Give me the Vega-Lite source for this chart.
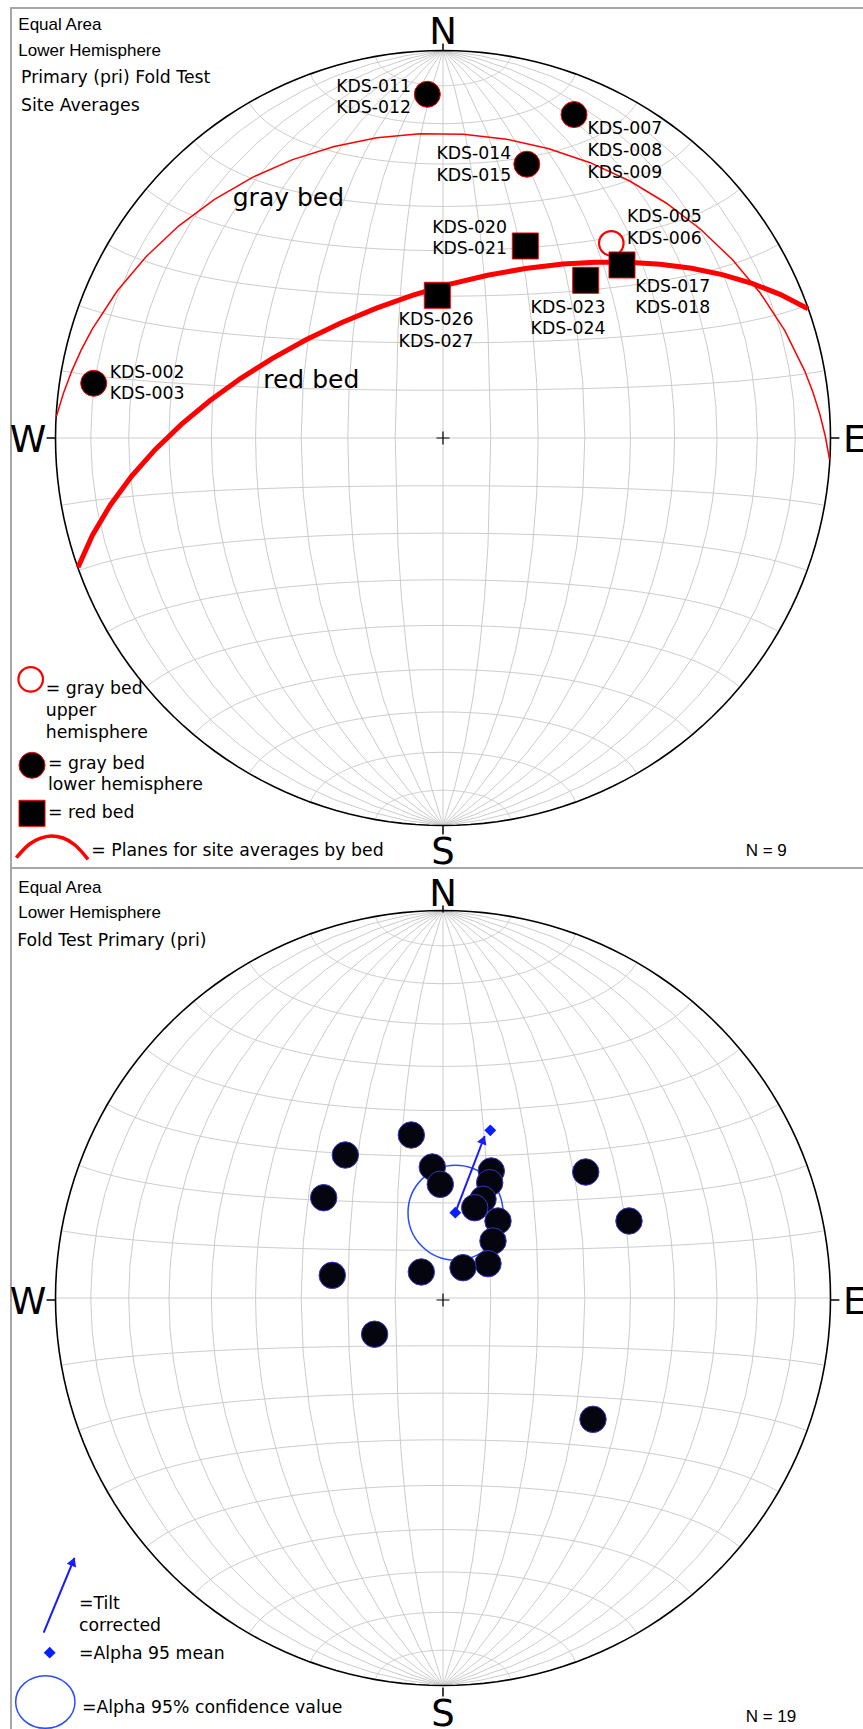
{
 "$schema": "https://vega.github.io/schema/vega-lite/v6.json",
 "padding": {"left": 8, "top": 7, "right": 0, "bottom": 0},
 "spacing": 0,
 "bounds": "flush",
 "background": "white",
 "config": {"view": {"stroke": "#a6a6a6", "strokeWidth": 2}},
 "vconcat": [
  {
   "width": 856, "height": 860,
   "layer": [
    {"data": {"graticule": {"extentMajor": [[-180, -89.99], [180, 89.99]], "extentMinor": [[-180, -89.99], [180, 89.99]], "stepMajor": [90, 360], "stepMinor": [10, 10], "precision": 1}},
     "mark": {"type": "geoshape", "filled": false, "stroke": "#cccccc", "strokeWidth": 1},
     "projection": {"type": "azimuthalEqualArea", "scale": 274.004, "translate": [432, 430], "clipAngle": 90}},
    {"data": {"sphere": true},
     "mark": {"type": "geoshape", "filled": false, "stroke": "#000000", "strokeWidth": 1.6},
     "projection": {"type": "azimuthalEqualArea", "scale": 274.004, "translate": [432, 430], "clipAngle": 90}},
    {"data": {"values": [{"type": "Feature", "properties": {"bed": "gray"}, "geometry": {"type": "LineString", "coordinates": [[-89.9, 3.2], [59.44, 49.84], [89.9, -3.2]]}}]},
     "mark": {"type": "geoshape", "filled": false, "stroke": "#ff0000", "strokeWidth": 1.5},
     "projection": {"type": "azimuthalEqualArea", "scale": 274.004, "translate": [432, 430], "clipAngle": 90}},
    {"data": {"values": [{"type": "Feature", "properties": {"bed": "red"}, "geometry": {"type": "LineString", "coordinates": [[-89.9, -19.5], [29.89, 35.85], [89.9, 19.5]]}}]},
     "mark": {"type": "geoshape", "filled": false, "stroke": "#ff0000", "strokeWidth": 5},
     "projection": {"type": "azimuthalEqualArea", "scale": 274.004, "translate": [432, 430], "clipAngle": 90}},
    {"data": {"values": [{"u": 0, "v": 1, "u2": 0, "v2": 1.0181}, {"u": 0, "v": -1, "u2": 0, "v2": -1.0232}, {"u": 1, "v": 0, "u2": 1.023, "v2": 0}, {"u": -1, "v": 0, "u2": -1.023, "v2": 0}]},
     "mark": {"type": "rule", "stroke": "#000000", "strokeWidth": 1.5},
     "encoding": {
      "x": {"field": "u", "type": "quantitative", "scale": {"domain": [-1.114839, 1.094194], "nice": false, "zero": false}, "axis": null},
      "y": {"field": "v", "type": "quantitative", "scale": {"domain": [-1.109677, 1.109677], "nice": false, "zero": false}, "axis": null},
      "x2": {"field": "u2"}, "y2": {"field": "v2"}}},
    {"data": {"values": [{"u": 0, "v": 0}]},
     "mark": {"type": "point", "shape": "M-1,0H1M0,-1V1", "size": 169, "filled": false, "stroke": "#000000", "strokeWidth": 1.2, "opacity": 1},
     "encoding": {
      "x": {"field": "u", "type": "quantitative", "axis": null},
      "y": {"field": "v", "type": "quantitative", "axis": null}}},
    {"data": {"values": [
      {"site": "KDS-011/012", "u": -0.0405, "v": 0.8870},
      {"site": "KDS-007/008/009", "u": 0.3381, "v": 0.8346},
      {"site": "KDS-014/015", "u": 0.2163, "v": 0.7066},
      {"site": "KDS-002/003", "u": -0.9014, "v": 0.1412},
      {"site": "legend", "u": -1.0606, "v": -0.8446}]},
     "mark": {"type": "point", "shape": "circle", "size": 676, "filled": true, "fill": "#000000", "stroke": "#ff0000", "strokeWidth": 1, "opacity": 1},
     "encoding": {
      "x": {"field": "u", "type": "quantitative", "axis": null},
      "y": {"field": "v", "type": "quantitative", "axis": null}}},
    {"data": {"values": [
      {"site": "KDS-005/006", "u": 0.4343, "v": 0.5025},
      {"site": "legend", "u": -1.0640, "v": -0.6227}]},
     "mark": {"type": "point", "shape": "circle", "size": 600, "filled": true, "fill": "#ffffff", "stroke": "#ff0000", "strokeWidth": 2.2, "opacity": 1},
     "encoding": {
      "x": {"field": "u", "type": "quantitative", "axis": null},
      "y": {"field": "v", "type": "quantitative", "axis": null}}},
    {"data": {"values": [
      {"site": "KDS-020/021", "u": 0.2124, "v": 0.4955},
      {"site": "KDS-026/027", "u": -0.0147, "v": 0.3683},
      {"site": "KDS-023/024", "u": 0.3683, "v": 0.4070},
      {"site": "KDS-017/018", "u": 0.4619, "v": 0.4465},
      {"site": "legend", "u": -1.0606, "v": -0.9685}]},
     "mark": {"type": "point", "shape": "square", "size": 676, "filled": true, "fill": "#000000", "stroke": "#ff0000", "strokeWidth": 1, "opacity": 1},
     "encoding": {
      "x": {"field": "u", "type": "quantitative", "axis": null},
      "y": {"field": "v", "type": "quantitative", "axis": null}}},
    {"data": {"values": [
      {"i": 0, "u": -1.1012, "v": -1.0831}, {"i": 1, "u": -1.0666, "v": -1.0477}, {"i": 2, "u": -1.0400, "v": -1.0335},
      {"i": 3, "u": -1.0108, "v": -1.0271}, {"i": 4, "u": -0.9806, "v": -1.0323}, {"i": 5, "u": -0.9497, "v": -1.0503}, {"i": 6, "u": -0.9161, "v": -1.0872}]},
     "mark": {"type": "line", "interpolate": "monotone", "stroke": "#ff0000", "strokeWidth": 3.5},
     "encoding": {
      "x": {"field": "u", "type": "quantitative", "axis": null},
      "y": {"field": "v", "type": "quantitative", "axis": null},
      "order": {"field": "i", "type": "quantitative"}}},
    {"data": {"values": [
      {"t": "KDS-007", "u": 0.3726, "v": 0.7855}, {"t": "KDS-008", "u": 0.3726, "v": 0.7285}, {"t": "KDS-009", "u": 0.3726, "v": 0.6717},
      {"t": "KDS-005", "u": 0.4748, "v": 0.5582}, {"t": "KDS-006", "u": 0.4748, "v": 0.4999},
      {"t": "KDS-017", "u": 0.4963, "v": 0.3775}, {"t": "KDS-018", "u": 0.4963, "v": 0.3218},
      {"t": "KDS-002", "u": -0.8601, "v": 0.1556}, {"t": "KDS-003", "u": -0.8601, "v": 0.0999},
      {"t": "= gray bed", "u": -1.0253, "v": -0.6614}, {"t": "upper", "u": -1.0253, "v": -0.7174}, {"t": "hemisphere", "u": -1.0253, "v": -0.7734},
      {"t": "= gray bed", "u": -1.0194, "v": -0.8534}, {"t": "lower hemisphere", "u": -1.0194, "v": -0.9092},
      {"t": "= red bed", "u": -1.0194, "v": -0.9799},
      {"t": "= Planes for site averages by bed", "u": -0.9076, "v": -1.0787},
      {"t": "Primary (pri) Fold Test", "u": -1.0890, "v": 0.9161}, {"t": "Site Averages", "u": -1.0890, "v": 0.8439}]},
     "mark": {"type": "text", "align": "left", "baseline": "alphabetic", "font": "DejaVu Sans", "fontSize": 17.3, "color": "#000000"},
     "encoding": {
      "x": {"field": "u", "type": "quantitative", "axis": null},
      "y": {"field": "v", "type": "quantitative", "axis": null},
      "text": {"field": "t"}}},
    {"data": {"values": [
      {"t": "KDS-011", "u": -0.0826, "v": 0.8937}, {"t": "KDS-012", "u": -0.0826, "v": 0.8395},
      {"t": "KDS-014", "u": 0.1763, "v": 0.7190}, {"t": "KDS-015", "u": 0.1763, "v": 0.6632},
      {"t": "KDS-020", "u": 0.1652, "v": 0.5298}, {"t": "KDS-021", "u": 0.1652, "v": 0.4741}]},
     "mark": {"type": "text", "align": "right", "baseline": "alphabetic", "font": "DejaVu Sans", "fontSize": 17.3, "color": "#000000"},
     "encoding": {
      "x": {"field": "u", "type": "quantitative", "axis": null},
      "y": {"field": "v", "type": "quantitative", "axis": null},
      "text": {"field": "t"}}},
    {"data": {"values": [
      {"t": "KDS-026", "u": -0.0181, "v": 0.2916}, {"t": "KDS-027", "u": -0.0181, "v": 0.2356},
      {"t": "KDS-023", "u": 0.3226, "v": 0.3234}, {"t": "KDS-024", "u": 0.3226, "v": 0.2676}]},
     "mark": {"type": "text", "align": "center", "baseline": "alphabetic", "font": "DejaVu Sans", "fontSize": 17.3, "color": "#000000"},
     "encoding": {
      "x": {"field": "u", "type": "quantitative", "axis": null},
      "y": {"field": "v", "type": "quantitative", "axis": null},
      "text": {"field": "t"}}},
    {"data": {"values": [{"t": "gray bed", "u": -0.3990, "v": 0.5980}, {"t": "red bed", "u": -0.3400, "v": 0.1290}]},
     "mark": {"type": "text", "align": "center", "baseline": "alphabetic", "font": "DejaVu Sans", "fontSize": 25, "color": "#000000"},
     "encoding": {
      "x": {"field": "u", "type": "quantitative", "axis": null},
      "y": {"field": "v", "type": "quantitative", "axis": null},
      "text": {"field": "t"}}},
    {"data": {"values": [{"t": "Equal Area", "u": -1.0960, "v": 1.0521}, {"t": "Lower Hemisphere", "u": -1.0960, "v": 0.9858}, {"t": "N = 9", "u": 0.7812, "v": -1.0787}]},
     "mark": {"type": "text", "align": "left", "baseline": "alphabetic", "font": "Liberation Sans", "fontSize": 17, "color": "#000000"},
     "encoding": {
      "x": {"field": "u", "type": "quantitative", "axis": null},
      "y": {"field": "v", "type": "quantitative", "axis": null},
      "text": {"field": "t"}}},
    {"data": {"values": [{"t": "N", "u": 0, "v": 1.0160}, {"t": "S", "u": 0, "v": -1.1006}]},
     "mark": {"type": "text", "align": "center", "baseline": "alphabetic", "font": "DejaVu Sans", "fontSize": 37, "color": "#000000"},
     "encoding": {
      "x": {"field": "u", "type": "quantitative", "axis": null},
      "y": {"field": "v", "type": "quantitative", "axis": null},
      "text": {"field": "t"}}},
    {"data": {"values": [{"t": "W", "u": -1.0237, "v": -0.036}]},
     "mark": {"type": "text", "align": "right", "baseline": "alphabetic", "font": "DejaVu Sans", "fontSize": 37, "color": "#000000"},
     "encoding": {
      "x": {"field": "u", "type": "quantitative", "axis": null},
      "y": {"field": "v", "type": "quantitative", "axis": null},
      "text": {"field": "t"}}},
    {"data": {"values": [{"t": "E", "u": 1.0323, "v": -0.036}]},
     "mark": {"type": "text", "align": "left", "baseline": "alphabetic", "font": "DejaVu Sans", "fontSize": 37, "color": "#000000"},
     "encoding": {
      "x": {"field": "u", "type": "quantitative", "axis": null},
      "y": {"field": "v", "type": "quantitative", "axis": null},
      "text": {"field": "t"}}}
   ]
  },
  {
   "width": 856, "height": 862,
   "layer": [
    {"data": {"graticule": {"extentMajor": [[-180, -89.99], [180, 89.99]], "extentMinor": [[-180, -89.99], [180, 89.99]], "stepMajor": [90, 360], "stepMinor": [10, 10], "precision": 1}},
     "mark": {"type": "geoshape", "filled": false, "stroke": "#cccccc", "strokeWidth": 1},
     "projection": {"type": "azimuthalEqualArea", "scale": 274.004, "translate": [432, 432], "clipAngle": 90}},
    {"data": {"sphere": true},
     "mark": {"type": "geoshape", "filled": false, "stroke": "#000000", "strokeWidth": 1.6},
     "projection": {"type": "azimuthalEqualArea", "scale": 274.004, "translate": [432, 432], "clipAngle": 90}},
    {"data": {"values": [{"u": 0, "v": 1, "u2": 0, "v2": 1.0181}, {"u": 0, "v": -1, "u2": 0, "v2": -1.0232}, {"u": 1, "v": 0, "u2": 1.023, "v2": 0}, {"u": -1, "v": 0, "u2": -1.023, "v2": 0}]},
     "mark": {"type": "rule", "stroke": "#000000", "strokeWidth": 1.5},
     "encoding": {
      "x": {"field": "u", "type": "quantitative", "scale": {"domain": [-1.114839, 1.094194], "nice": false, "zero": false}, "axis": null},
      "y": {"field": "v", "type": "quantitative", "scale": {"domain": [-1.109677, 1.114839], "nice": false, "zero": false}, "axis": null},
      "x2": {"field": "u2"}, "y2": {"field": "v2"}}},
    {"data": {"values": [{"u": 0, "v": 0}]},
     "mark": {"type": "point", "shape": "M-1,0H1M0,-1V1", "size": 169, "filled": false, "stroke": "#000000", "strokeWidth": 1.2, "opacity": 1},
     "encoding": {
      "x": {"field": "u", "type": "quantitative", "axis": null},
      "y": {"field": "v", "type": "quantitative", "axis": null}}},
    {"data": {"values": [{"item": "alpha95", "u": 0.0323, "v": 0.2253}]},
     "mark": {"type": "point", "shape": "circle", "size": 9025, "filled": false, "stroke": "#2a4cff", "strokeWidth": 1.5, "opacity": 1},
     "encoding": {
      "x": {"field": "u", "type": "quantitative", "axis": null},
      "y": {"field": "v", "type": "quantitative", "axis": null}}},
    {"data": {"values": [{"item": "legend ellipse", "u": -1.0263, "v": -1.0374}]},
     "mark": {"type": "point", "shape": "M-1,0A1,0.889,0,1,1,1,0A1,0.889,0,1,1,-1,0Z", "size": 3516, "filled": false, "stroke": "#2a4cff", "strokeWidth": 1.5, "opacity": 1},
     "encoding": {
      "x": {"field": "u", "type": "quantitative", "axis": null},
      "y": {"field": "v", "type": "quantitative", "axis": null}}},
    {"data": {"values": [
      {"u": -0.0818, "v": 0.4258}, {"u": -0.2521, "v": 0.3742}, {"u": -0.3079, "v": 0.2640}, {"u": -0.0276, "v": 0.3432},
      {"u": -0.0070, "v": 0.2986}, {"u": 0.3683, "v": 0.3303}, {"u": 0.4800, "v": 0.2039}, {"u": 0.1246, "v": 0.3329},
      {"u": 0.1205, "v": 0.3027}, {"u": 0.1032, "v": 0.2599}, {"u": 0.0818, "v": 0.2382}, {"u": 0.1419, "v": 0.2039},
      {"u": 0.1290, "v": 0.1523}, {"u": 0.1161, "v": 0.0937}, {"u": 0.0516, "v": 0.0834}, {"u": -0.0560, "v": 0.0723},
      {"u": -0.2857, "v": 0.0637}, {"u": -0.1765, "v": -0.0883}, {"u": 0.3871, "v": -0.3079}]},
     "mark": {"type": "point", "shape": "circle", "size": 700, "filled": true, "fill": "#050510", "stroke": "#3a32c8", "strokeWidth": 1, "opacity": 1},
     "encoding": {
      "x": {"field": "u", "type": "quantitative", "axis": null},
      "y": {"field": "v", "type": "quantitative", "axis": null}}},
    {"data": {"values": [{"item": "tilt arrow", "u": 0.0317, "v": 0.2253, "u2": 0.1076, "v2": 0.4232}, {"item": "legend arrow", "u": -1.0305, "v": -0.8586, "u2": -0.9510, "v2": -0.6658}]},
     "mark": {"type": "rule", "stroke": "#1a1aff", "strokeWidth": 2},
     "encoding": {
      "x": {"field": "u", "type": "quantitative", "axis": null},
      "y": {"field": "v", "type": "quantitative", "axis": null},
      "x2": {"field": "u2"}, "y2": {"field": "v2"}}},
    {"data": {"values": [{"item": "tilt arrow head", "u": 0.1039, "v": 0.4136}, {"item": "legend arrow head", "u": -0.9548, "v": -0.6751}]},
     "mark": {"type": "point", "shape": "triangle-up", "size": 100, "angle": 21, "filled": true, "fill": "#1a1aff", "strokeWidth": 0, "opacity": 1},
     "encoding": {
      "x": {"field": "u", "type": "quantitative", "axis": null},
      "y": {"field": "v", "type": "quantitative", "axis": null}}},
    {"data": {"values": [{"item": "mean", "u": 0.0317, "v": 0.2253}, {"item": "tilt corrected", "u": 0.1221, "v": 0.4379}, {"item": "legend", "u": -1.0150, "v": -0.9102}]},
     "mark": {"type": "point", "shape": "diamond", "size": 140, "filled": true, "fill": "#0a1eff", "strokeWidth": 0, "opacity": 1},
     "encoding": {
      "x": {"field": "u", "type": "quantitative", "axis": null},
      "y": {"field": "v", "type": "quantitative", "axis": null}}},
    {"data": {"values": [
      {"t": "=Tilt", "u": -0.9394, "v": -0.7982}, {"t": "corrected", "u": -0.9394, "v": -0.8542},
      {"t": "=Alpha 95 mean", "u": -0.9394, "v": -0.9272}, {"t": "=Alpha 95% confidence value", "u": -0.9316, "v": -1.0650},
      {"t": "Fold Test Primary (pri)", "u": -1.0990, "v": 0.9135}]},
     "mark": {"type": "text", "align": "left", "baseline": "alphabetic", "font": "DejaVu Sans", "fontSize": 17.3, "color": "#000000"},
     "encoding": {
      "x": {"field": "u", "type": "quantitative", "axis": null},
      "y": {"field": "v", "type": "quantitative", "axis": null},
      "text": {"field": "t"}}},
    {"data": {"values": [{"t": "Equal Area", "u": -1.0960, "v": 1.0511}, {"t": "Lower Hemisphere", "u": -1.0960, "v": 0.9850}, {"t": "N = 19", "u": 0.7812, "v": -1.0900}]},
     "mark": {"type": "text", "align": "left", "baseline": "alphabetic", "font": "Liberation Sans", "fontSize": 17, "color": "#000000"},
     "encoding": {
      "x": {"field": "u", "type": "quantitative", "axis": null},
      "y": {"field": "v", "type": "quantitative", "axis": null},
      "text": {"field": "t"}}},
    {"data": {"values": [{"t": "N", "u": 0, "v": 1.0160}, {"t": "S", "u": 0, "v": -1.1006}]},
     "mark": {"type": "text", "align": "center", "baseline": "alphabetic", "font": "DejaVu Sans", "fontSize": 37, "color": "#000000"},
     "encoding": {
      "x": {"field": "u", "type": "quantitative", "axis": null},
      "y": {"field": "v", "type": "quantitative", "axis": null},
      "text": {"field": "t"}}},
    {"data": {"values": [{"t": "W", "u": -1.0237, "v": -0.036}]},
     "mark": {"type": "text", "align": "right", "baseline": "alphabetic", "font": "DejaVu Sans", "fontSize": 37, "color": "#000000"},
     "encoding": {
      "x": {"field": "u", "type": "quantitative", "axis": null},
      "y": {"field": "v", "type": "quantitative", "axis": null},
      "text": {"field": "t"}}},
    {"data": {"values": [{"t": "E", "u": 1.0323, "v": -0.036}]},
     "mark": {"type": "text", "align": "left", "baseline": "alphabetic", "font": "DejaVu Sans", "fontSize": 37, "color": "#000000"},
     "encoding": {
      "x": {"field": "u", "type": "quantitative", "axis": null},
      "y": {"field": "v", "type": "quantitative", "axis": null},
      "text": {"field": "t"}}}
   ]
  }
 ]
}
